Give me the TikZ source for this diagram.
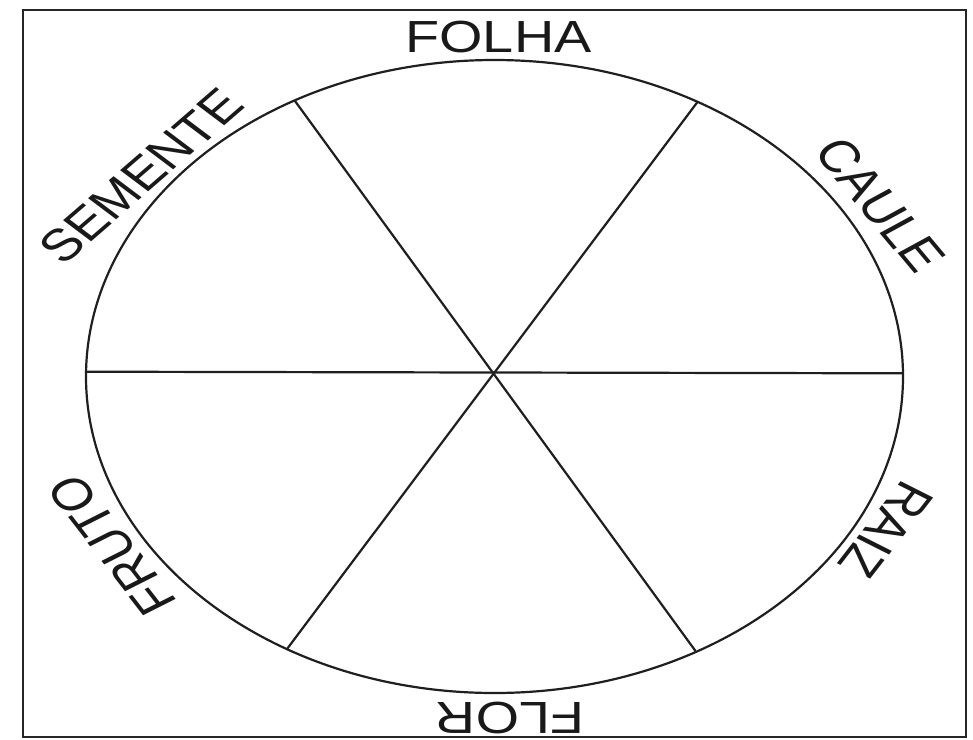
\documentclass[tikz,border=0pt]{standalone}
\usepackage{fontspec}
\setmainfont{Liberation Sans}
\tikzset{
  frameline/.style={line width=2.6pt, draw=black!85},
  wheel/.style={line width=2.2pt, draw=black!88},
  lab/.style={inner sep=0pt, font=\fontsize{45}{50}\selectfont, text=black!90},
}
\newcommand\partlabel[5]{%
  \begin{scope}[shift={(#2,#3)}, xscale=1.24]
    \node[lab, rotate=#4, transform shape] (#1) at (0,0) {#5};
  \end{scope}}
\begin{document}
\begin{tikzpicture}[x=1pt, y=-1pt]
\useasboundingbox (0,0) rectangle (973,739);
\fill[white] (0,0) rectangle (973,739);
% frame
\coordinate (ftl) at (23,10);
\coordinate (fbr) at (966,737);
\draw[frameline] (ftl) rectangle (fbr);
% wheel
\coordinate (c) at (494.5,376.5);
\draw[wheel] (c) ellipse [x radius=408.5pt, y radius=316.5pt];
\coordinate (hl) at (86,371.7);
\coordinate (hr) at (903,373.3);
\coordinate (ul) at (295,101);
\coordinate (lr) at (695.5,651);
\coordinate (ur) at (697.7,101.7);
\coordinate (ll) at (287,649);
\draw[wheel] (hl) -- (hr);
\draw[wheel] (ul) -- (lr);
\draw[wheel] (ur) -- (ll);
% labels
\partlabel{folha}{498.5}{37}{0}{FOLHA}
\partlabel{caule}{880}{205}{-56}{CAULE}
\partlabel{raiz}{886}{530}{-122}{RAIZ}
\partlabel{flor}{510}{718}{180}{FLOR}
\partlabel{fruto}{112}{545}{122}{FRUTO}
\partlabel{semente}{141}{176}{47}{SEMENTE}
\end{tikzpicture}
\end{document}
